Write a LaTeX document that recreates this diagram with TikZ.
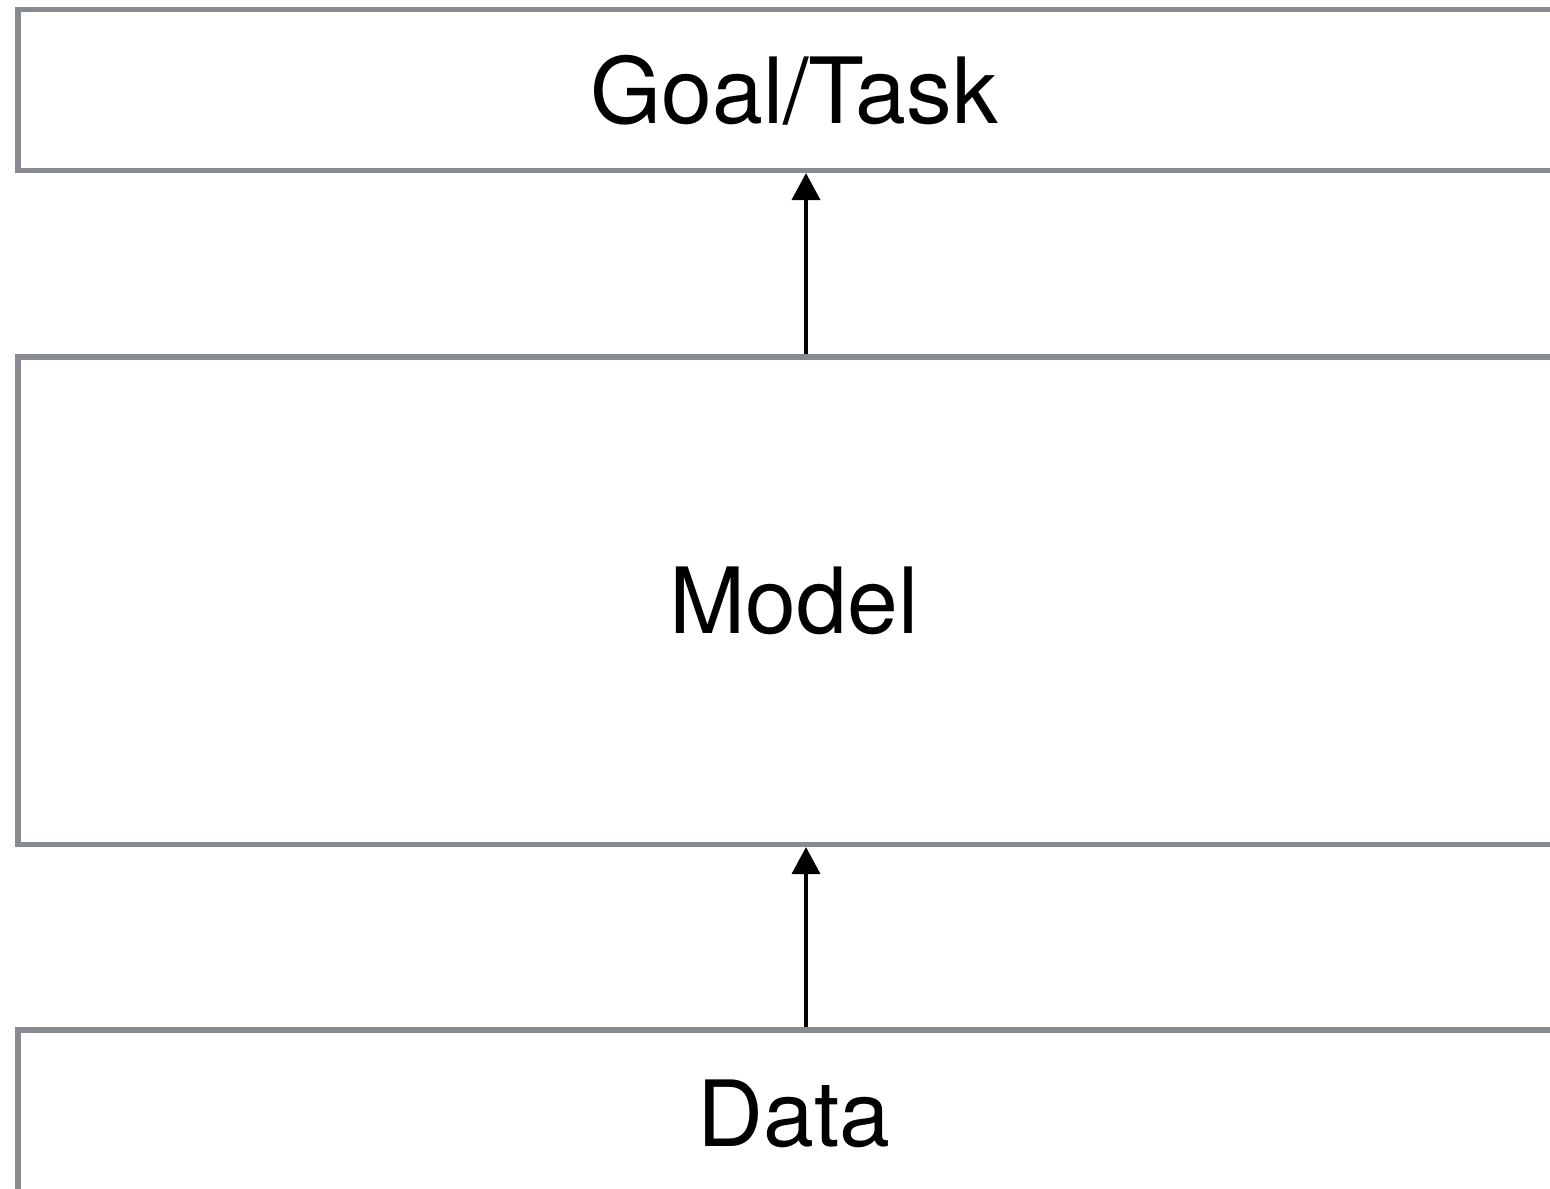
\documentclass[tikz,border=0pt]{standalone}
\usepackage{fontspec}
\setmainfont{TeX Gyre Heros}
\usetikzlibrary{arrows.meta}
\definecolor{rulegray}{HTML}{878B8F}

\begin{document}
\begin{tikzpicture}[
    layer/.style={draw=rulegray, line width=1.45pt, minimum width=15.52cm,
        inner sep=0pt, font=\fontsize{26}{30}\selectfont},
    arrow/.style={-{Triangle[width=.28cm, length=.27cm]}, line width=1.1pt},
]
    \useasboundingbox (0, 0) rectangle (15.5, -11.88);
    \clip (0, 0) rectangle (15.5, -11.88);

    %% the three layers, cut off at the right edge
    \node[layer, minimum height=1.61cm] (goal) at (7.94, -.90) {Goal/Task};
    \node[layer, minimum height=4.875cm] (model) at (7.94, -6.0075) {Model};
    \node[layer, minimum height=1.68cm] (data) at (7.94, -11.14) {Data};

    %% data feeds the model, the model serves the goal
    \draw[arrow] ([xshift=.12cm]data.north) -- ([xshift=.12cm]model.south);
    \draw[arrow] ([xshift=.12cm]model.north) -- ([xshift=.12cm]goal.south);
\end{tikzpicture}
\end{document}
